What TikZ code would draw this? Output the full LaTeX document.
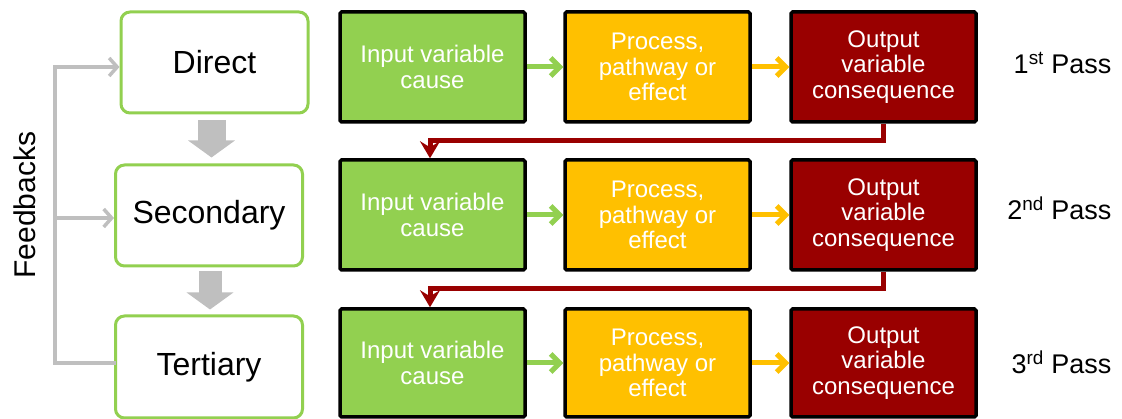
\documentclass[tikz,border=0pt]{standalone}
\usepackage{fontspec}
\setmainfont{Liberation Sans}
\usetikzlibrary{arrows.meta}
\definecolor{cgreen}{HTML}{92D050}
\definecolor{corange}{HTML}{FFC000}
\definecolor{cred}{HTML}{990000}
\definecolor{cgray}{HTML}{BFBFBF}
\begin{document}
\begin{tikzpicture}[x=1pt,y=-1pt,
  levelbox/.style={draw=cgreen, line width=3pt, rounded corners=9pt, minimum width=187pt, minimum height=101pt, font=\fontsize{32}{36}\selectfont, fill=white},
  stagebox/.style={draw=black, line width=3.5pt, rounded corners=1.5pt, minimum width=185pt, minimum height=110pt, text=white, align=center, font=\fontsize{24}{25.5}\selectfont},
  inbox/.style={stagebox, fill=cgreen},
  procbox/.style={stagebox, fill=corange},
  outbox/.style={stagebox, fill=cred},
  passlabel/.style={anchor=east, font=\fontsize{27}{30}\selectfont},
  flowarrow/.style={line width=5pt, -{Straight Barb[length=9pt,width=18pt]}},
  feedarrow/.style={cgray, line width=3.5pt, line cap=rect, -{Straight Barb[length=8pt,width=18pt]}},
  passlink/.style={cred, line width=5pt, -{Stealth[length=17pt,width=20pt,inset=6pt]}},
  blockarrow/.style={cgray, -{Triangle[length=17pt,width=46pt]}}
]
\useasboundingbox (0,0) rectangle (1122,419);

% level boxes
\node[levelbox] (direct) at (214.5,62.5) {Direct};
\node[levelbox] (secondary) at (209,215.5) {Secondary};
\node[levelbox, minimum height=102pt] (tertiary) at (209,367) {Tertiary};

% block arrows between levels
\draw[blockarrow, line width=28pt, shorten <=6pt, shorten >=6pt] ([xshift=-3pt]direct.south) -- ([xshift=-3pt]direct.south |- secondary.north);
\draw[blockarrow, line width=23pt, shorten <=4pt, shorten >=5pt] ([xshift=1pt]secondary.south) -- ([xshift=1pt]secondary.south |- tertiary.north);

% feedbacks
\node[rotate=90, font=\fontsize{30}{32}\selectfont] (fb) at (25,205) {Feedbacks};
\coordinate (fbtop) at (55,67);
\coordinate (fbmid) at (55,218);
\coordinate (fbbot) at (55,363);
\draw[cgray, line width=3.5pt, line cap=rect] (fbtop) -- (fbbot) -- (fbbot -| tertiary.west);
\draw[feedarrow] (fbtop) -- (fbtop -| direct.west);
\draw[feedarrow] (fbmid) -- (fbmid -| secondary.west);

% rows
\node[inbox] (in1) at (432.5,67) {Input variable\\cause};
\node[procbox] (pr1) at (657.5,67) {Process,\\pathway or\\effect};
\node[outbox] (out1) at (883.5,67) {Output\\variable\\consequence};

\node[inbox] (in2) at (432.5,215) {Input variable\\cause};
\node[procbox] (pr2) at (657.5,215) {Process,\\pathway or\\effect};
\node[outbox] (out2) at (883.5,215) {Output\\variable\\consequence};

\node[inbox, minimum height=108pt] (in3) at (432.5,363) {Input variable\\cause};
\node[procbox, minimum height=108pt] (pr3) at (657.5,363) {Process,\\pathway or\\effect};
\node[outbox, minimum height=108pt] (out3) at (883.5,363) {Output\\variable\\consequence};

\foreach \r in {1,2,3}{
  \draw[flowarrow, cgreen] (in\r.east) -- (pr\r.west);
  \draw[flowarrow, corange] (pr\r.east) -- (out\r.west);
}

% pass links
\draw[passlink] (out1.south) -- ++(0,17) -| ([xshift=-2.5pt]in2.north);
\draw[passlink] (out2.south) -- ++(0,17) -| ([xshift=-2.5pt]in3.north);

% pass labels
\node[passlabel] (p1) at (1115,63) {1\textsuperscript{st} Pass};
\node[passlabel] (p2) at (1115,208) {2\textsuperscript{nd} Pass};
\node[passlabel] (p3) at (1115,362) {3\textsuperscript{rd} Pass};
\end{tikzpicture}
\end{document}
